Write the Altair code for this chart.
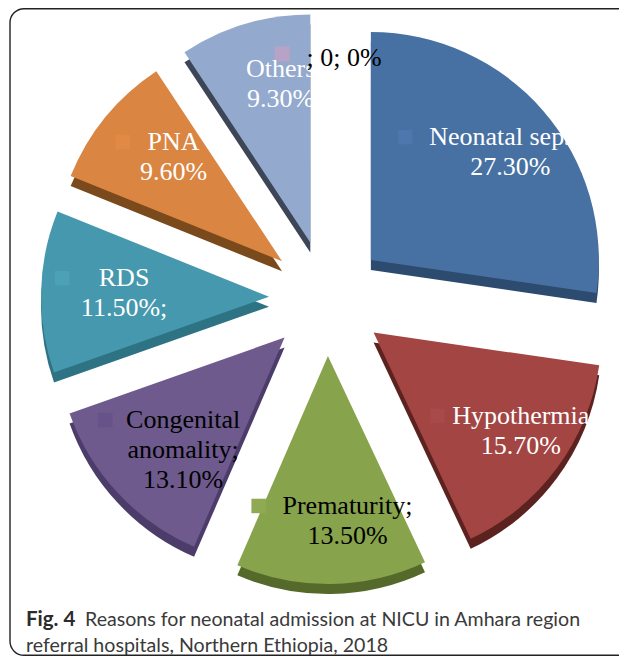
import math
import altair as alt
import pandas as pd

# ---------------- data ----------------
categories = ["Neonatal sepsis", "Hypothermia", "Prematurity",
              "Congenital anomality", "RDS", "PNA", "Others", "Zero"]
values = [27.3, 15.7, 13.5, 13.1, 11.5, 9.6, 9.3, 0.0]
label_lines = [
    ["Neonatal sepsis", "27.30%"],
    ["Hypothermia", "15.70%"],
    ["Prematurity;", "13.50%"],
    ["Congenital", "anomality;", "13.10%"],
    ["RDS", "11.50%;"],
    ["PNA", "9.60%"],
    ["Others", "9.30%"],
    ["; 0; 0%"],
]
face_colors = ["#4771A3", "#A24543", "#87A34C", "#6E5A8D",
               "#4598AD", "#DA8541", "#93A9CE", "#B9A5C7"]
side_colors = ["#2D4A6F", "#5C2220", "#55692A", "#4B3C6A",
               "#2E7383", "#7A4A1C", "#3C4656", "#8A7A99"]
key_colors = ["#4D78AD", "#A9494A", "#8FAA52", "#67528A",
              "#4CA1B7", "#E08A45", "#93A9CE", "#B7A3C5"]
text_colors = ["white", "white", "black", "black",
               "white", "white", "white", "black"]

caption_bold = "Fig. 4"
caption_line1 = "Reasons for neonatal admission at NICU in Amhara region"
caption_line2 = "referral hospitals, Northern Ethiopia, 2018"

df = pd.DataFrame({
    "cat": categories,
    "value": values,
    "order": list(range(len(categories))),
    "lines": label_lines,
    "nlines": [len(l) for l in label_lines],
    "maxlen": [max(len(s) for s in l) for l in label_lines],
})

# ---------------- layout ----------------
W, H = 610, 648
CX, CY = 318, 290        # pie centre inside plot area
R = 228                  # slice radius
EXPLODE = 58             # explosion distance
LABEL_RX, LABEL_RY = 162, 165
LABEL_DX, LABEL_DY = 17, 0
LINE_H = 30
DEPTH = 10

xscale = alt.Scale(domain=[-CX, W - CX], nice=False, zero=False)
yscale = alt.Scale(domain=[-CY, H - CY], nice=False, zero=False, reverse=True)
tscale = alt.Scale(domain=[0, 100], range=[0, 2 * math.pi])

base = alt.Chart(df).transform_window(
    cum="sum(value)", sort=[alt.SortField("order")], frame=[None, 0]
).transform_calculate(
    start="datum.cum - datum.value",
    end="datum.cum",
    ang="(datum.cum - datum.value / 2) / 100 * 2 * PI",
    ox=f"{EXPLODE} * sin(datum.ang)",
    oy=f"-{EXPLODE} * cos(datum.ang)",
    lx=f"datum.ox + {LABEL_RX} * sin(datum.ang) + {LABEL_DX}",
    ly=f"datum.oy - {LABEL_RY} * cos(datum.ang) + {LABEL_DY} - (datum.nlines - 1) * {LINE_H / 2}",
    kx="datum.lx - (datum.maxlen * 5.4 + 24)",
    ky="datum.ly",
)

xy = dict(
    x=alt.X("ox:Q", scale=xscale, axis=None),
    y=alt.Y("oy:Q", scale=yscale, axis=None),
)
theta = dict(
    theta=alt.Theta("start:Q", scale=tscale, stack=None),
    theta2="end:Q",
)

sides = base.mark_arc(radius=R, yOffset=DEPTH).encode(
    **xy, **theta,
    color=alt.Color("cat:N", scale=alt.Scale(domain=categories, range=side_colors), legend=None),
)
faces = base.mark_arc(radius=R).encode(
    **xy, **theta,
    color=alt.Color("cat:N", scale=alt.Scale(domain=categories, range=face_colors), legend=None),
)

key_main = base.transform_filter("datum.value > 0").mark_point(
    shape="square", filled=True, size=210, opacity=1
).encode(
    x=alt.X("kx:Q", scale=xscale, axis=None),
    y=alt.Y("ky:Q", scale=yscale, axis=None),
    color=alt.Color("cat:N", scale=alt.Scale(domain=categories, range=key_colors), legend=None),
)
key_zero = base.transform_filter("datum.value == 0").mark_point(
    shape="square", filled=True, size=230, opacity=1, yOffset=-21
).encode(
    x=alt.X("kx:Q", scale=xscale, axis=None),
    y=alt.Y("ky:Q", scale=yscale, axis=None),
    color=alt.Color("cat:N", scale=alt.Scale(domain=categories, range=key_colors), legend=None),
)

text_style = dict(font="Liberation Serif", fontSize=26, lineHeight=LINE_H,
                  align="center", baseline="middle")
labels_main = base.transform_filter("datum.value > 0").mark_text(**text_style).encode(
    x=alt.X("lx:Q", scale=xscale, axis=None),
    y=alt.Y("ly:Q", scale=yscale, axis=None),
    text=alt.Text("lines"),
    color=alt.Color("cat:N", scale=alt.Scale(domain=categories, range=text_colors), legend=None),
)
labels_zero = base.transform_filter("datum.value == 0").mark_text(yOffset=-17, **text_style).encode(
    x=alt.X("lx:Q", scale=xscale, axis=None),
    y=alt.Y("ly:Q", scale=yscale, axis=None),
    text=alt.Text("lines"),
    color=alt.Color("cat:N", scale=alt.Scale(domain=categories, range=text_colors), legend=None),
)

one = pd.DataFrame({"k": [0]})
frame = alt.Chart(one).mark_rect(
    fill=None, stroke="#222222", strokeWidth=1.4, cornerRadius=14, clip=True
).encode(
    x=alt.value(1), x2=alt.value(W + 40), y=alt.value(0.7), y2=alt.value(H - 0.7)
)

cap_font = "Lato"
cap1 = alt.Chart(one).mark_text(font=cap_font, fontSize=20.5, fontWeight="bold",
                                align="left", baseline="alphabetic", color="#2b2b2b").encode(
    x=alt.value(17), y=alt.value(618), text=alt.value(caption_bold))
cap2 = alt.Chart(one).mark_text(font=cap_font, fontSize=19.6,
                                align="left", baseline="alphabetic", color="#3a3a3a").encode(
    x=alt.value(76), y=alt.value(618), text=alt.value(caption_line1))
cap3 = alt.Chart(one).mark_text(font=cap_font, fontSize=19.6,
                                align="left", baseline="alphabetic", color="#3a3a3a").encode(
    x=alt.value(17), y=alt.value(644), text=alt.value(caption_line2))

chart = alt.layer(
    frame, sides, faces, key_main, key_zero, labels_main, labels_zero, cap1, cap2, cap3
).resolve_scale(color="independent").properties(
    width=W, height=H,
    padding={"left": 1, "top": 0, "right": 0, "bottom": 0},
    background="white",
).configure_view(stroke=None)

chart.save("out.html", embed_options={"renderer": "svg", "actions": False})
